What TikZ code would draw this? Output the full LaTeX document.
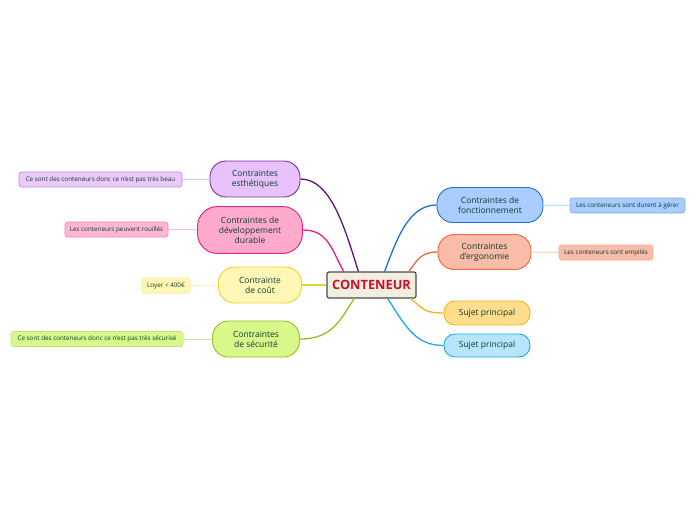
\documentclass[tikz,border=0pt]{standalone}
\usepackage{fontspec}
\setmainfont{Open Sans}
\usepackage{xcolor}
\definecolor{Ink}{HTML}{0B3A30}
\definecolor{Crimson}{HTML}{C8102E}
\definecolor{Cream}{HTML}{F2EEE0}
\definecolor{Slate}{HTML}{4A4A4A}
\definecolor{Lilac}{HTML}{E8C0FA}
\definecolor{Plum}{HTML}{7A3394}
\definecolor{PlumLine}{HTML}{5C1675}
\definecolor{Rose}{HTML}{FFAACD}
\definecolor{Magenta}{HTML}{EE1C7A}
\definecolor{Butter}{HTML}{FFF7B5}
\definecolor{Gold}{HTML}{EAD22D}
\definecolor{Lime}{HTML}{D8F889}
\definecolor{Olive}{HTML}{95C01F}
\definecolor{Sky}{HTML}{A8CDFE}
\definecolor{Azure}{HTML}{1F6DD7}
\definecolor{Salmon}{HTML}{F8BCA8}
\definecolor{Coral}{HTML}{F2653A}
\definecolor{Apricot}{HTML}{FFDD8C}
\definecolor{Amber}{HTML}{F7B21C}
\definecolor{Ice}{HTML}{B7E6FB}
\definecolor{Cyan}{HTML}{1DA7EA}
\usetikzlibrary{positioning}

\begin{document}
\begin{tikzpicture}[x=1pt,y=-1pt,
  every node/.style={font=\fontsize{8.5}{10}\selectfont,align=center,text=Ink},
  topic/.style={rounded corners=16pt,draw=#1,fill=#1!35!white,line width=0.9pt,
    inner sep=2pt},
  detail/.style={rounded corners=2.5pt,draw=#1!55!white,fill=#1!35!white,line width=0.6pt,
    minimum height=15pt,inner sep=2pt,font=\fontsize{6.3}{7}\selectfont},
  link/.style={line width=1.3pt,draw=#1},
  twig/.style={line width=0.8pt,draw=#1!40!white}
]
\useasboundingbox (0,0) rectangle (696,520);

% centre
\node[draw=Slate,fill=Cream,line width=1.2pt,rounded corners=2pt,
  minimum width=89pt,minimum height=26pt,inner sep=3pt,
  font=\fontsize{12.8}{14}\selectfont\bfseries,text=Crimson] (main) at (371.5,285) {CONTENEUR};

% left branches
\node[topic=Plum,fill=Lilac,minimum width=90pt,minimum height=36pt] (esth) at (255,179)
  {Contraintes\\esthétiques};
\node[topic=Magenta,fill=Rose,rounded corners=20pt,minimum width=105pt,minimum height=47pt] (durable) at (250,230)
  {Contraintes de\\développement\\durable};
\node[topic=Gold,fill=Butter,minimum width=83pt,minimum height=36pt] (cout) at (260,285)
  {Contrainte\\de coût};
\node[topic=Olive,fill=Lime,minimum width=87pt,minimum height=36pt] (secu) at (256,339)
  {Contraintes\\de sécurité};

% right branches
\node[topic=Azure,fill=Sky,minimum width=106pt,minimum height=35pt] (fonct) at (490,205)
  {Contraintes de\\fonctionnement};
\node[topic=Coral,fill=Salmon,minimum width=93pt,minimum height=35pt] (ergo) at (484.5,252)
  {Contraintes\\d'ergonomie};
\node[topic=Amber,fill=Apricot,rounded corners=11pt,minimum width=86pt,minimum height=24pt] (sujetA) at (487,313)
  {Sujet principal};
\node[topic=Cyan,fill=Ice,rounded corners=11pt,minimum width=86pt,minimum height=23pt] (sujetB) at (487,345.5)
  {Sujet principal};

% details
\node[detail=Plum,fill=Lilac!85!white,minimum width=163pt] (esthD) at (100.5,179.5)
  {Ce sont des conteneurs donc ce n'est pas très beau};
\node[detail=Magenta,fill=Rose!85!white,minimum width=103pt] (durableD) at (116.5,229.5)
  {Les conteneurs peuvent rouillés};
\node[detail=Gold,fill=Butter,minimum width=48pt] (coutD) at (166,285.5)
  {Loyer < 400€};
\node[detail=Olive,fill=Lime,minimum width=172pt] (secuD) at (97,339)
  {Ce sont des conteneurs donc ce n'est pas très sécurisé};
\node[detail=Azure,fill=Sky,minimum width=115pt] (fonctD) at (627.5,205.5)
  {Les conteneurs sont durent à gérer};
\node[detail=Coral,fill=Salmon,minimum width=94pt] (ergoD) at (606,252.5)
  {Les conteneurs sont empilés};

% branches
\draw[link=PlumLine] (esth.east) .. controls +(30,0) and +(-14,-45) .. (main.134);
\draw[link=Magenta] (durable.east) .. controls +(25,0) and +(-12,-22) .. (main.154);
\draw[link=Gold] (cout.east) -- (main.west);
\draw[link=Olive] (secu.east) .. controls +(32,0) and +(-14,22) .. (main.218);
\draw[link=Azure] (fonct.west) .. controls +(-28,0) and +(12,-32) .. (main.46);
\draw[link=Coral] (ergo.west) .. controls +(-18,0) and +(8,-10) .. (main.20);
\draw[link=Amber] (main.341) .. controls +(12,10) and +(-20,0) .. (sujetA.west);
\draw[link=Cyan] (main.320) .. controls +(18,28) and +(-28,0) .. (sujetB.west);

\draw[twig=Plum] (esthD) -- (esth);
\draw[twig=Magenta] (durableD) -- (durable);
\draw[twig=Gold] (coutD) -- (cout);
\draw[twig=Olive] (secuD) -- (secu);
\draw[twig=Azure] (fonctD) -- (fonct);
\draw[twig=Coral] (ergoD) -- (ergo);
\end{tikzpicture}
\end{document}
